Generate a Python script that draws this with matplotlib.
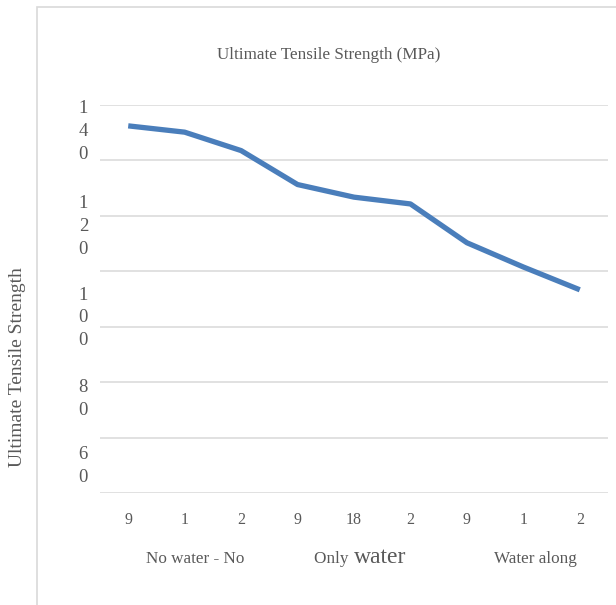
import matplotlib.pyplot as plt
import matplotlib.transforms as mtransforms
from matplotlib.patches import Rectangle
import numpy as np

# data
tick_labels = ['9', '1', '2', '9', '18', '2', '9', '1', '2']
strength = [135.7, 134.4, 130.6, 123.6, 121.0, 119.6, 111.6, 106.6, 101.9]
groups = ['No water - No', 'Only water', 'Water along']
ytick_vals = [140, 120, 100, 80, 60]

# layout (label positions in the source image are off their gridlines)
ytick_pos = [135.5, 115.9, 97.1, 80.4, 66.6]
grid_vals = np.linspace(60, 140, 8)

txt = '#595959'
plt.rcParams['font.family'] = ['Liberation Serif', 'DejaVu Serif']

W, H = 616, 605
fig = plt.figure(figsize=(W / 100, H / 100), dpi=100)

# outer chart border (only left/top visible in the crop)
fig.patches.append(Rectangle((37 / W, -0.01), 1, (H - 7) / H + 0.01,
                             transform=fig.transFigure, fill=False,
                             edgecolor='#d9d9d9', linewidth=1.2))

ax = fig.add_axes([100 / W, (H - 493) / H, 508 / W, 388 / H])
x = np.arange(len(strength))
ax.plot(x, strength, color='#4a7ebb', linewidth=3.8, solid_capstyle='butt')

ax.set_xlim(-0.5, len(strength) - 0.5)
ax.set_ylim(60, 140)
for s in ax.spines.values():
    s.set_visible(False)

ax.set_xticks(x, tick_labels)
ax.set_yticks(ytick_pos, ['\n'.join(str(v)) for v in ytick_vals])
ax.set_yticks(grid_vals, minor=True)
ax.grid(which='minor', axis='y', color='#d9d9d9', linewidth=1.1)
ax.tick_params(axis='both', which='both', length=0)
ax.tick_params(axis='x', labelsize=11.5, labelcolor=txt, pad=14)
ax.tick_params(axis='y', labelsize=13.5, labelcolor=txt, pad=12)
for lab in ax.get_yticklabels():
    lab.set_ha('center')
    lab.set_multialignment('center')
    lab.set_linespacing(1.45)

# group labels under the category ticks
trans = mtransforms.blended_transform_factory(ax.transData, ax.transAxes)
gy = -70 / 388
ax.text(1.18, gy, groups[0], transform=trans, ha='center', va='baseline',
        fontsize=12.3, color=txt)
only, water = groups[1].split(' ')
ax.text(3.98, gy, only + ' ', transform=trans, ha='right', va='baseline',
        fontsize=12.3, color=txt)
ax.text(4.0, gy, water, transform=trans, ha='left', va='baseline',
        fontsize=17, color=txt)
ax.text(7.21, gy, groups[2], transform=trans, ha='center', va='baseline',
        fontsize=12.3, color=txt)

fig.text(329 / W, 1 - 55 / H, 'Ultimate Tensile Strength (MPa)', ha='center',
         va='center', fontsize=12.3, color=txt)
fig.text(18 / W, 1 - 367 / H, 'Ultimate Tensile Strength', rotation=90,
         ha='center', va='center', fontsize=14, color=txt)

fig.savefig('out.png', dpi=100)
